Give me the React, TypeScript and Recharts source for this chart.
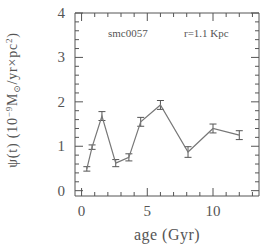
import React from 'react';
import { ComposedChart, Line, XAxis, YAxis, ErrorBar } from 'recharts';

const ages = [0.4, 0.8, 1.55, 2.6, 3.6, 4.5, 6.0, 8.1, 10.0, 12.0];
const psi = [0.49, 0.98, 1.68, 0.62, 0.75, 1.55, 1.93, 0.87, 1.4, 1.25];
const errs = [0.05, 0.05, 0.1, 0.08, 0.08, 0.1, 0.1, 0.12, 0.1, 0.1];

const xTicks = [0, 1, 2, 3, 4, 5, 6, 7, 8, 9, 10, 11, 12, 13];
const yTicks = [0, 0.2, 0.4, 0.6, 0.8, 1, 1.2, 1.4, 1.6, 1.8, 2, 2.2, 2.4, 2.6, 2.8, 3, 3.2, 3.4, 3.6, 3.8, 4];

const data = ages.map((age, i) => ({ age, psi: psi[i], err: errs[i] }));

const FONT = '"Liberation Serif", "DejaVu Serif", serif';
const AXIS = '#555';

const isMajorX = (v: number) => v % 5 === 0;
const isMajorY = (v: number) => Math.abs(v - Math.round(v)) < 1e-6;

// ticks point inward, labels only on bottom / left
const XTick = (props: any) => {
  const { x, y, payload, top } = props;
  const len = isMajorX(payload.value) ? 8 : 4;
  return (
    <g>
      <line x1={x} x2={x} y1={y} y2={top ? y + len : y - len} stroke={AXIS} strokeWidth={1} />
      {!top && isMajorX(payload.value) && (
        <text x={x} y={y + 20} textAnchor="middle" fontFamily={FONT} fontSize={15} fill="#555">
          {payload.value}
        </text>
      )}
    </g>
  );
};

const YTick = (props: any) => {
  const { x, y, payload, right } = props;
  const major = isMajorY(payload.value);
  const len = major ? 8 : 4;
  return (
    <g>
      <line x1={x} x2={right ? x - len : x + len} y1={y} y2={y} stroke={AXIS} strokeWidth={1} />
      {!right && major && (
        <text x={x - 10} y={y + 5} textAnchor="end" fontFamily={FONT} fontSize={15} fill="#555">
          {Math.round(payload.value)}
        </text>
      )}
    </g>
  );
};

export default function App() {
  return (
    <div style={{ position: 'absolute', left: 0, top: 0, width: 273, height: 245, background: '#fff' }}>
      <ComposedChart width={273} height={245} data={data} margin={{ top: 12, right: 13, left: 0, bottom: 0 }}>
        <XAxis
          xAxisId="b"
          dataKey="age"
          type="number"
          domain={[-0.5, 13.5]}
          ticks={xTicks}
          height={49}
          tickSize={0}
          tickMargin={0}
          tickLine={false}
          axisLine={{ stroke: AXIS }}
          tick={<XTick />}
          interval={0}
        />
        <XAxis
          xAxisId="t"
          dataKey="age"
          orientation="top"
          type="number"
          domain={[-0.5, 13.5]}
          ticks={xTicks}
          height={1}
          tickSize={0}
          tickMargin={0}
          tickLine={false}
          axisLine={{ stroke: AXIS }}
          tick={<XTick top />}
          interval={0}
        />
        <YAxis
          yAxisId="l"
          type="number"
          domain={[-0.12, 4]}
          ticks={yTicks}
          width={75}
          tickSize={0}
          tickMargin={0}
          tickLine={false}
          axisLine={{ stroke: AXIS }}
          tick={<YTick />}
          interval={0}
        />
        <YAxis
          yAxisId="r"
          orientation="right"
          type="number"
          domain={[-0.12, 4]}
          ticks={yTicks}
          width={1}
          tickSize={0}
          tickMargin={0}
          tickLine={false}
          axisLine={{ stroke: AXIS }}
          tick={<YTick right />}
          interval={0}
        />
        {/* invisible series so the top / right axes get drawn */}
        <Line
          xAxisId="t"
          yAxisId="r"
          dataKey="psi"
          stroke="none"
          dot={false}
          isAnimationActive={false}
        />
        <Line
          xAxisId="b"
          yAxisId="l"
          dataKey="psi"
          stroke="#777"
          strokeWidth={1.2}
          dot={false}
          isAnimationActive={false}
        >
          <ErrorBar dataKey="err" direction="y" width={3.5} stroke="#555" strokeWidth={1} isAnimationActive={false} />
        </Line>
        <text x={108} y={37} fontFamily={FONT} fontSize={11} fill="#555">smc0057</text>
        <text x={184} y={37} fontFamily={FONT} fontSize={11} fill="#555">r=1.1 Kpc</text>
        <text x={167} y={240} textAnchor="middle" fontFamily={FONT} fontSize={16} fill="#555" letterSpacing={0.5}>
          age (Gyr)
        </text>
        <text
          transform="translate(17,100) rotate(-90)"
          textAnchor="middle"
          fontFamily={FONT}
          fontSize={14}
          fill="#555"
          letterSpacing={0.8}
        >
          ψ(t) (10<tspan fontSize={9} dy={-5}>−9</tspan>
          <tspan dy={5}>M</tspan>
          <tspan fontSize={9} dy={3}>⊙</tspan>
          <tspan dy={-3}>/yr×pc</tspan>
          <tspan fontSize={9} dy={-5}>2</tspan>
          <tspan dy={5}>)</tspan>
        </text>
      </ComposedChart>
    </div>
  );
}
